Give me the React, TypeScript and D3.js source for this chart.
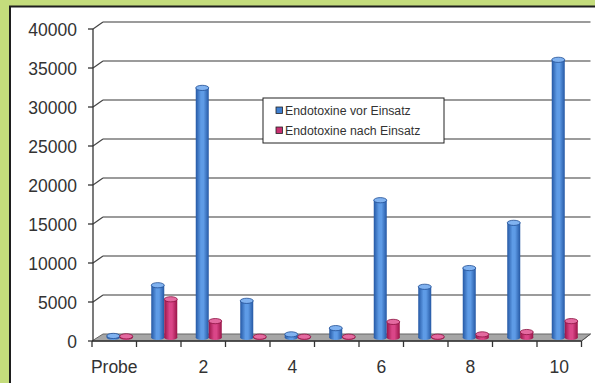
import React from "react";
import * as d3 from "d3";

const categories = ["Probe", "1", "2", "3", "4", "5", "6", "7", "8", "9", "10"];
const tickLabels = ["Probe", "", "2", "", "4", "", "6", "", "8", "", "10"];
const seriesNames = ["Endotoxine vor Einsatz", "Endotoxine nach Einsatz"];
const vorValues = [200, 6700, 32000, 4700, 400, 1200, 17600, 6500, 8900, 14700, 35600];
const nachValues = [150, 4900, 2100, 100, 100, 100, 2000, 100, 400, 700, 2100];
const yTicks = [0, 5000, 10000, 15000, 20000, 25000, 30000, 35000, 40000];

const W = 595, H = 383;
const x0 = 92, x1 = 581.5;
const yFront0 = 341, yFront40 = 29;
const DX = 11, DY = -7;

export default function App() {
  const x = d3.scaleBand<string>().domain(categories).range([x0, x1]).paddingInner(0).paddingOuter(0);
  const y = d3.scaleLinear().domain([0, 40000]).range([yFront0, yFront40]);
  const bw = 13;
  const sub = d3.scaleBand<number>().domain([0, 1]).range([-bw, bw]);
  const colors = [
    { edge: "#2558a4", mid: "#5e9be6", top: "#80b2f0", stroke: "#1f4e94" },
    { edge: "#9a1448", mid: "#da4688", top: "#e46aa0", stroke: "#8c1240" },
  ];
  const series = [vorValues, nachValues];
  const mx = DX / 2, my = DY / 2;
  const ry = 2.6;
  const tickPositions = categories.map((c) => x(c)!).concat([x1]);

  return (
    <svg width={W} height={H} style={{ position: "absolute", left: 0, top: 0 }} fontFamily="Liberation Sans, Arial, sans-serif">
      <defs>
        {colors.map((c, i) => (
          <linearGradient key={i} id={"g" + i} x1="0" x2="1" y1="0" y2="0">
            <stop offset="0" stopColor={c.edge} />
            <stop offset="0.4" stopColor={c.mid} />
            <stop offset="0.6" stopColor={c.mid} />
            <stop offset="1" stopColor={c.edge} />
          </linearGradient>
        ))}
      </defs>
      <rect x={0} y={0} width={W} height={H} fill="#c4dc7c" />
      <rect x={10} y={6.5} width={W + 10} height={H} fill="#ffffff" stroke="#1e1e1e" strokeWidth={2} />
      {/* gridlines */}
      {yTicks.filter((t) => t > 0).map((t) => (
        <g key={t}>
          <line x1={x0 + 1} y1={y(t)} x2={x0 + DX} y2={y(t) + DY} stroke="#444" strokeWidth={1.2} />
          <line x1={x0 + DX} y1={y(t) + DY} x2={x1 + DX - 2} y2={y(t) + DY} stroke="#7a7a7a" strokeWidth={1.5} />
        </g>
      ))}
      {/* floor */}
      <polygon
        points={`${x0},${yFront0} ${x1},${yFront0} ${x1 + DX - 2},${yFront0 + DY} ${x0 + DX},${yFront0 + DY}`}
        fill="#a6a6a6"
        stroke="#666"
        strokeWidth={1}
      />
      {/* bars */}
      {categories.map((c, ci) =>
        series.map((vals, si) => {
          const cx = x(c)! + x.bandwidth() / 2 + mx + sub(si)! + bw / 2;
          const xl = cx - bw / 2;
          const yb = y(0) + my;
          const yt = y(vals[ci]) + my;
          const col = colors[si];
          return (
            <g key={c + si}>
              <ellipse cx={cx} cy={yb} rx={bw / 2} ry={ry} fill={`url(#g${si})`} />
              <rect x={xl} y={yt} width={bw} height={Math.max(0, yb - yt)} fill={`url(#g${si})`} />
              <ellipse cx={cx} cy={yt} rx={bw / 2} ry={ry} fill={col.top} stroke={col.stroke} strokeWidth={0.8} />
            </g>
          );
        })
      )}
      {/* axes */}
      <line x1={x0 + 1} y1={yFront40} x2={x0 + 1} y2={yFront0} stroke="#333" strokeWidth={1.3} />
      <line x1={x0} y1={yFront0} x2={x1} y2={yFront0} stroke="#333" strokeWidth={1.3} />
      <line x1={x1} y1={yFront0} x2={x1 + DX - 2} y2={yFront0 + DY} stroke="#555" strokeWidth={1} />
      {yTicks.map((t) => (
        <g key={t}>
          <line x1={x0 - 4} y1={y(t)} x2={x0 + 1} y2={y(t)} stroke="#333" strokeWidth={1.3} />
          <text x={77} y={y(t) + 1} dy="0.36em" textAnchor="end" fontSize={17.5} fill="#333">
            {t}
          </text>
        </g>
      ))}
      {tickPositions.map((p, i) => (
        <line key={i} x1={p} y1={yFront0} x2={p} y2={yFront0 + 6} stroke="#333" strokeWidth={1.3} />
      ))}
      {categories.map((c, i) => (
        <text key={c} x={x(c)! + x.bandwidth() / 2} y={372.5} textAnchor="middle" fontSize={17.5} fill="#333">
          {tickLabels[i]}
        </text>
      ))}
      {/* legend */}
      <g>
        <rect x={263} y={98} width={181} height={45} fill="#fff" stroke="#222" strokeWidth={1} />
        {seriesNames.map((n, i) => (
          <g key={n}>
            <rect x={276} y={107 + i * 20} width={6.5} height={6.5} fill={i === 0 ? "#3f7fd0" : "#c83070"} stroke="#222" strokeWidth={0.8} />
            <text x={285} y={110.5 + i * 20} dy="0.36em" fontSize={12.3} fill="#333">
              {n}
            </text>
          </g>
        ))}
      </g>
    </svg>
  );
}
